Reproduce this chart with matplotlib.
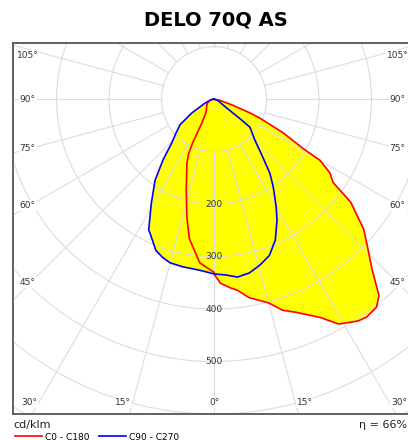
import numpy as np
import matplotlib
matplotlib.use("Agg")
import matplotlib.pyplot as plt
from matplotlib.patches import Circle

# Light distribution, cd/klm (gamma in degrees, 0 = nadir)
c0_gamma = [0, 2, 5, 7, 10, 15, 18, 21, 26, 29, 33, 35, 38, 40, 43, 46, 49, 53, 55, 57.5, 60, 61, 64, 67.5, 69, 72, 80, 90]
c0_int = [333, 351, 361, 367, 384, 402, 423, 435, 463, 490, 504, 507, 503, 489, 441, 407, 378, 326, 277, 262, 233, 194, 147, 95, 74, 38, 10, 0]

c180_gamma = [0, 5, 10, 13, 17, 23, 25, 26, 27, 31.5, 40, 50, 60, 70, 80, 90]
c180_int = [330, 313, 270, 230, 181, 132, 114, 93, 51, 29, 22, 18, 14, 10, 5, 0]

c90_gamma = [0, 4, 7.5, 11.5, 15.5, 19.5, 23.5, 27.5, 30, 34, 37, 40, 45, 52, 53, 55, 70, 90]
c90_int = [333, 336, 342, 338, 328, 316, 293, 260, 237, 202, 177, 145, 110, 87, 64, 30, 8, 0]

c270_gamma = [0, 5, 10.5, 15, 18, 21, 25.5, 26.5, 31, 36, 40, 44, 48, 53, 58, 66, 80, 90]
c270_int = [333, 327, 325, 323, 317, 309, 283, 279, 232, 191, 151, 116, 98, 81, 50, 19, 5, 0]

ring_values = [200, 300, 400, 500]
angle_labels_side = [105, 90, 75, 60, 45]
angle_labels_bottom = [-30, -15, 0, 15, 30]
efficiency = "η = 66%"


def half_plane(gamma, intensity, side):
    g = np.radians(gamma)
    i = np.asarray(intensity, dtype=float)
    return side * i * np.sin(g), -i * np.cos(g)


def curve(g_pos, i_pos, g_neg, i_neg):
    xr, yr = half_plane(g_pos, i_pos, 1)
    xl, yl = half_plane(g_neg, i_neg, -1)
    # from the top down the right side, then back up the left side
    x = np.concatenate([xr[::-1], xl])
    y = np.concatenate([yr[::-1], yl])
    return x, y


fig = plt.figure(figsize=(4.08, 4.4), dpi=100)
ax = fig.add_axes([13 / 408, 26 / 440, 402 / 408, 371 / 440])
ax.set_xlim(-383, 383)
ax.set_ylim(-600, 107)
ax.set_xticks([])
ax.set_yticks([])
for s in ax.spines.values():
    s.set_color("#555555")
    s.set_linewidth(1.3)

red_x, red_y = curve(c0_gamma, c0_int, c180_gamma, c180_int)
blue_x, blue_y = curve(c90_gamma, c90_int, c270_gamma, c270_int)

ax.fill(red_x, red_y, color="#ffff00", lw=0, zorder=1)
ax.fill(blue_x, blue_y, color="#ffff00", lw=0, zorder=1)

# polar grid
grid_col = "#dddddd"
for r in range(100, 900, 100):
    ax.add_patch(Circle((0, 0), r, fill=False, ec=grid_col, lw=0.8, zorder=2))
for a in range(-180, 181, 15):
    t = np.radians(a)
    ax.plot([100 * np.sin(t), 1000 * np.sin(t)], [-100 * np.cos(t), -1000 * np.cos(t)],
            color=grid_col, lw=0.8, zorder=2)

ax.plot(red_x, red_y, color="#ff0000", lw=1.2, zorder=4, label="C0 - C180")
ax.plot(blue_x, blue_y, color="#0000ff", lw=1.2, zorder=4, label="C90 - C270")

for v in ring_values:
    ax.text(0, -v, str(v), ha="center", va="center", fontsize=6.5, color="#333333", zorder=5)

box = dict(boxstyle="square,pad=0.1", fc="white", ec="none")
for a in angle_labels_side:
    y = -350 / np.tan(np.radians(a)) if a != 90 else 0
    y = min(y, 84)
    for sx in (-355, 350):
        ax.text(sx, y, f"{a}°", ha="center", va="center", fontsize=6.5,
                color="#333333", bbox=box, zorder=5)
for a in angle_labels_bottom:
    # labels sit a little outside where the ray meets the lower edge
    x = 579 * np.tan(np.radians(a)) + np.sign(a) * 18
    ax.text(x, -579, f"{abs(a)}°", ha="center", va="center", fontsize=6.5,
            color="#333333", bbox=box, zorder=5)

fig.text(216 / 408, 1 - 20 / 440, "DELO 70Q AS", ha="center", va="center",
         fontsize=14, fontweight="bold")
fig.text(13 / 408, 1 - 425 / 440, "cd/klm", ha="left", va="center", fontsize=8, color="#222222")
fig.text(407 / 408, 1 - 425 / 440, efficiency, ha="right", va="center", fontsize=8, color="#222222")

fig.legend(loc="center left", bbox_to_anchor=(15 / 408, 1 - 437 / 440), ncol=2,
           frameon=False, fontsize=6.5, handlelength=3.0, handletextpad=0.3,
           columnspacing=1.1, borderpad=0, borderaxespad=0)

fig.savefig("out.png", dpi=100)
